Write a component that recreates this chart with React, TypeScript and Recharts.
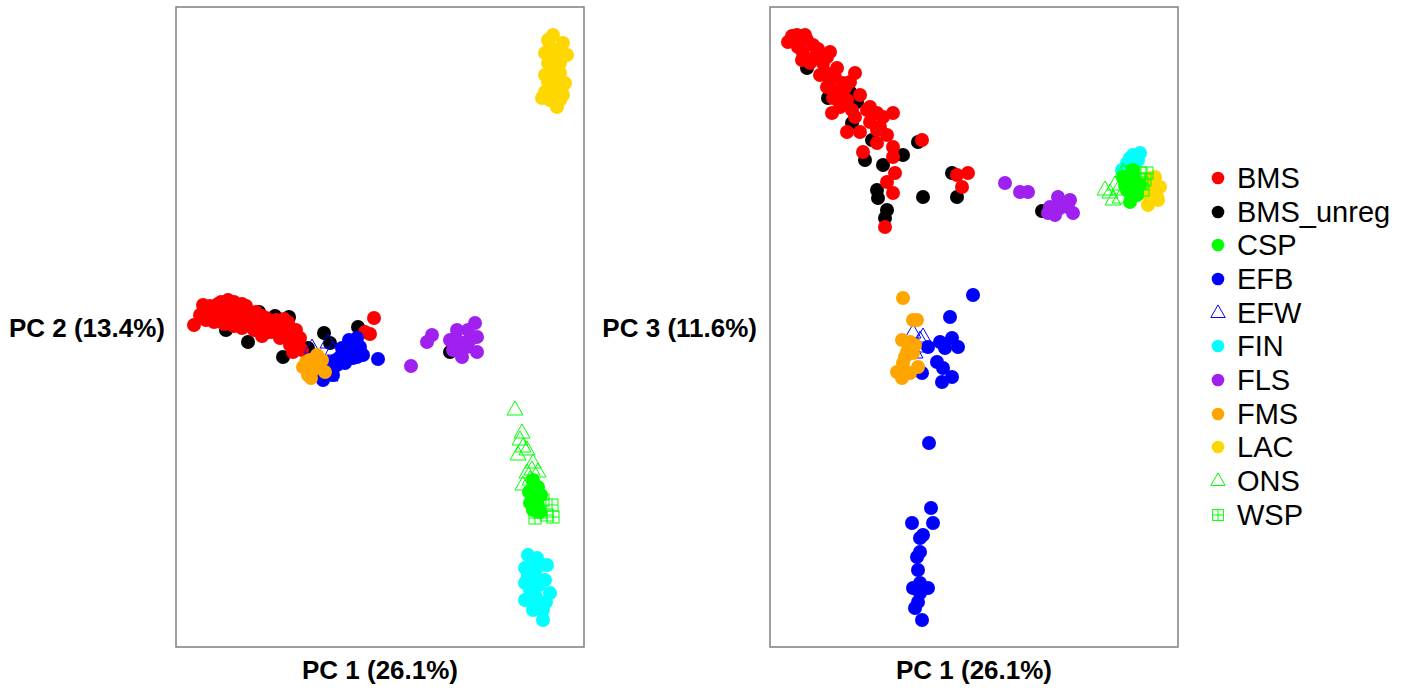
import React from "react";
import { ScatterChart, Scatter, XAxis, YAxis, ReferenceArea } from "recharts";

type Pt = { x: number; y: number };
type Marker = "dot" | "triangle" | "squarePlus";

// PC scores, in box-relative units (x: 0..408, y: 0..640, y up)
const pc12_BMS: Pt[] = [
  { x: 18, y: 322 }, { x: 27, y: 342 }, { x: 32, y: 337 }, { x: 36, y: 331 }, { x: 30, y: 327 },
  { x: 42, y: 343 }, { x: 46, y: 335 }, { x: 50, y: 341 }, { x: 54, y: 329 }, { x: 60, y: 339 },
  { x: 64, y: 333 }, { x: 68, y: 325 }, { x: 70, y: 341 }, { x: 74, y: 329 }, { x: 76, y: 321 },
  { x: 80, y: 335 }, { x: 84, y: 325 }, { x: 88, y: 319 }, { x: 90, y: 329 }, { x: 94, y: 322 },
  { x: 96, y: 315 }, { x: 100, y: 327 }, { x: 102, y: 317 }, { x: 106, y: 321 }, { x: 110, y: 312 },
  { x: 112, y: 325 }, { x: 116, y: 307 }, { x: 120, y: 317 }, { x: 122, y: 301 }, { x: 124, y: 309 },
  { x: 126, y: 297 }, { x: 114, y: 302 }, { x: 38, y: 325 }, { x: 48, y: 323 }, { x: 58, y: 321 },
  { x: 66, y: 319 }, { x: 78, y: 317 }, { x: 82, y: 331 }, { x: 40, y: 337 }, { x: 24, y: 332 },
  { x: 72, y: 335 }, { x: 86, y: 311 }, { x: 104, y: 309 }, { x: 198, y: 329 }, { x: 189, y: 315 },
  { x: 194, y: 313 }, { x: 56, y: 335 }, { x: 62, y: 327 }, { x: 34, y: 341 }, { x: 52, y: 347 },
  { x: 117, y: 295 }, { x: 45, y: 345 }, { x: 58, y: 345 }, { x: 66, y: 343 }, { x: 92, y: 315 },
  { x: 98, y: 321 }, { x: 108, y: 328 }, { x: 118, y: 312 }, { x: 44, y: 328 }, { x: 86, y: 331 },
];
const pc12_BMS_unreg: Pt[] = [
  { x: 83, y: 335 }, { x: 72, y: 305 }, { x: 50, y: 317 }, { x: 94, y: 325 }, { x: 113, y: 330 },
  { x: 107, y: 290 }, { x: 148, y: 314 }, { x: 154, y: 304 }, { x: 182, y: 320 }, { x: 132, y: 299 },
  { x: 274, y: 295 }, { x: 64, y: 322 }, { x: 99, y: 331 }, { x: 120, y: 305 },
];
const pc12_EFB: Pt[] = [
  { x: 181, y: 309 }, { x: 174, y: 304 }, { x: 184, y: 300 }, { x: 187, y: 292 }, { x: 177, y: 289 },
  { x: 169, y: 284 }, { x: 161, y: 282 }, { x: 154, y: 277 }, { x: 147, y: 267 }, { x: 202, y: 288 },
  { x: 171, y: 294 }, { x: 181, y: 290 }, { x: 164, y: 290 }, { x: 173, y: 307 }, { x: 160, y: 287 },
  { x: 152, y: 285 }, { x: 157, y: 272 }, { x: 166, y: 299 }, { x: 179, y: 297 }, { x: 142, y: 275 },
];
const pc12_EFW: Pt[] = [
  { x: 136, y: 299 }, { x: 152, y: 304 }, { x: 157, y: 297 }, { x: 154, y: 271 }, { x: 144, y: 275 },
  { x: 142, y: 287 },
];
const pc12_FMS: Pt[] = [
  { x: 141, y: 292 }, { x: 134, y: 287 }, { x: 127, y: 280 }, { x: 132, y: 272 }, { x: 144, y: 280 },
  { x: 149, y: 275 }, { x: 137, y: 277 }, { x: 130, y: 285 }, { x: 139, y: 283 }, { x: 146, y: 287 },
  { x: 135, y: 269 },
];
const pc12_FLS: Pt[] = [
  { x: 235, y: 281 }, { x: 251, y: 305 }, { x: 256, y: 312 }, { x: 281, y: 317 }, { x: 299, y: 324 },
  { x: 301, y: 310 }, { x: 284, y: 305 }, { x: 277, y: 297 }, { x: 286, y: 290 }, { x: 301, y: 295 },
  { x: 291, y: 300 }, { x: 274, y: 307 }, { x: 292, y: 317 }, { x: 294, y: 307 }, { x: 282, y: 297 },
];
const pc12_LAC: Pt[] = [
  { x: 377, y: 612 }, { x: 374, y: 600 }, { x: 369, y: 594 }, { x: 381, y: 597 }, { x: 387, y: 604 },
  { x: 391, y: 592 }, { x: 372, y: 584 }, { x: 384, y: 584 }, { x: 369, y: 572 }, { x: 384, y: 574 },
  { x: 389, y: 564 }, { x: 369, y: 555 }, { x: 374, y: 547 }, { x: 384, y: 547 }, { x: 381, y: 540 },
  { x: 387, y: 552 }, { x: 376, y: 562 }, { x: 379, y: 577 }, { x: 372, y: 607 }, { x: 366, y: 549 },
  { x: 375, y: 588 }, { x: 383, y: 590 }, { x: 378, y: 570 }, { x: 386, y: 560 }, { x: 372, y: 565 },
  { x: 379, y: 550 }, { x: 385, y: 600 }, { x: 376, y: 596 },
];
const pc12_ONS: Pt[] = [
  { x: 339, y: 237 }, { x: 346, y: 214 }, { x: 347, y: 200 }, { x: 342, y: 192 }, { x: 351, y: 197 },
  { x: 357, y: 184 }, { x: 351, y: 174 }, { x: 347, y: 162 }, { x: 356, y: 177 }, { x: 344, y: 207 },
  { x: 354, y: 167 }, { x: 362, y: 175 },
];
const pc12_CSP: Pt[] = [
  { x: 357, y: 167 }, { x: 362, y: 160 }, { x: 354, y: 144 }, { x: 362, y: 142 }, { x: 357, y: 137 },
  { x: 361, y: 150 }, { x: 353, y: 155 }, { x: 365, y: 152 }, { x: 359, y: 157 }, { x: 364, y: 135 },
];
const pc12_WSP: Pt[] = [
  { x: 367, y: 147 }, { x: 376, y: 142 }, { x: 377, y: 130 }, { x: 359, y: 129 }, { x: 371, y: 132 },
  { x: 357, y: 142 }, { x: 364, y: 135 },
];
const pc12_FIN: Pt[] = [
  { x: 352, y: 92 }, { x: 361, y: 89 }, { x: 371, y: 82 }, { x: 349, y: 79 }, { x: 359, y: 74 },
  { x: 369, y: 67 }, { x: 349, y: 64 }, { x: 357, y: 57 }, { x: 374, y: 54 }, { x: 349, y: 47 },
  { x: 359, y: 44 }, { x: 357, y: 37 }, { x: 367, y: 37 }, { x: 367, y: 27 }, { x: 366, y: 42 },
  { x: 354, y: 57 }, { x: 364, y: 82 }, { x: 352, y: 72 }, { x: 356, y: 85 }, { x: 363, y: 62 },
  { x: 360, y: 50 }, { x: 351, y: 67 }, { x: 370, y: 45 },
];

const pc13_BMS: Pt[] = [
  { x: 18, y: 605 }, { x: 27, y: 612 }, { x: 37, y: 607 }, { x: 43, y: 602 }, { x: 33, y: 594 },
  { x: 47, y: 594 }, { x: 60, y: 595 }, { x: 53, y: 584 }, { x: 40, y: 584 }, { x: 67, y: 579 },
  { x: 50, y: 572 }, { x: 85, y: 574 }, { x: 60, y: 565 }, { x: 73, y: 564 }, { x: 67, y: 555 },
  { x: 77, y: 547 }, { x: 62, y: 534 }, { x: 70, y: 540 }, { x: 90, y: 552 }, { x: 97, y: 537 },
  { x: 107, y: 534 }, { x: 123, y: 534 }, { x: 113, y: 530 }, { x: 77, y: 515 }, { x: 90, y: 515 },
  { x: 107, y: 517 }, { x: 117, y: 512 }, { x: 107, y: 504 }, { x: 152, y: 507 }, { x: 123, y: 500 },
  { x: 93, y: 495 }, { x: 123, y: 490 }, { x: 125, y: 474 }, { x: 117, y: 465 }, { x: 123, y: 454 },
  { x: 115, y: 420 }, { x: 187, y: 472 }, { x: 198, y: 474 }, { x: 192, y: 460 }, { x: 32, y: 587 },
  { x: 45, y: 589 }, { x: 55, y: 575 }, { x: 63, y: 549 }, { x: 82, y: 537 }, { x: 100, y: 525 },
  { x: 75, y: 559 }, { x: 28, y: 600 }, { x: 22, y: 611 }, { x: 35, y: 612 }, { x: 48, y: 598 },
  { x: 57, y: 590 }, { x: 65, y: 570 }, { x: 80, y: 565 }, { x: 72, y: 548 }, { x: 85, y: 530 },
  { x: 100, y: 540 }, { x: 110, y: 520 }, { x: 57, y: 560 },
];
const pc13_BMS_unreg: Pt[] = [
  { x: 80, y: 555 }, { x: 87, y: 545 }, { x: 82, y: 524 }, { x: 102, y: 507 }, { x: 95, y: 487 },
  { x: 113, y: 482 }, { x: 133, y: 492 }, { x: 148, y: 505 }, { x: 107, y: 457 }, { x: 108, y: 449 },
  { x: 117, y: 437 }, { x: 115, y: 429 }, { x: 153, y: 450 }, { x: 182, y: 474 }, { x: 187, y: 450 },
  { x: 58, y: 549 }, { x: 37, y: 579 }, { x: 272, y: 436 },
];
const pc13_EFB: Pt[] = [
  { x: 203, y: 352 }, { x: 180, y: 330 }, { x: 182, y: 309 }, { x: 170, y: 305 }, { x: 175, y: 299 },
  { x: 188, y: 300 }, { x: 158, y: 300 }, { x: 167, y: 285 }, { x: 173, y: 279 }, { x: 152, y: 274 },
  { x: 172, y: 265 }, { x: 182, y: 270 }, { x: 159, y: 204 }, { x: 161, y: 139 }, { x: 142, y: 124 },
  { x: 163, y: 124 }, { x: 153, y: 112 }, { x: 150, y: 109 }, { x: 150, y: 95 }, { x: 147, y: 90 },
  { x: 148, y: 77 }, { x: 150, y: 64 }, { x: 143, y: 59 }, { x: 158, y: 59 }, { x: 150, y: 54 },
  { x: 148, y: 45 }, { x: 145, y: 39 }, { x: 152, y: 27 },
];
const pc13_EFW: Pt[] = [
  { x: 143, y: 314 }, { x: 153, y: 310 }, { x: 148, y: 300 }, { x: 145, y: 294 }, { x: 150, y: 307 },
];
const pc13_FMS: Pt[] = [
  { x: 133, y: 349 }, { x: 147, y: 327 }, { x: 143, y: 327 }, { x: 132, y: 307 }, { x: 140, y: 305 },
  { x: 137, y: 295 }, { x: 143, y: 294 }, { x: 133, y: 284 }, { x: 127, y: 275 }, { x: 132, y: 269 },
  { x: 140, y: 274 }, { x: 148, y: 280 }, { x: 145, y: 302 }, { x: 135, y: 290 },
];
const pc13_FLS: Pt[] = [
  { x: 235, y: 464 }, { x: 250, y: 455 }, { x: 258, y: 455 }, { x: 288, y: 450 }, { x: 300, y: 447 },
  { x: 280, y: 440 }, { x: 290, y: 439 }, { x: 303, y: 434 }, { x: 285, y: 432 }, { x: 293, y: 442 },
  { x: 278, y: 434 }, { x: 298, y: 440 },
];
const pc13_FIN: Pt[] = [
  { x: 363, y: 492 }, { x: 368, y: 487 }, { x: 357, y: 484 }, { x: 352, y: 477 }, { x: 370, y: 494 },
  { x: 360, y: 489 },
];
const pc13_LAC: Pt[] = [
  { x: 385, y: 470 }, { x: 390, y: 460 }, { x: 387, y: 450 }, { x: 378, y: 442 }, { x: 375, y: 454 },
  { x: 383, y: 462 }, { x: 380, y: 469 }, { x: 388, y: 447 },
];
const pc13_CSP: Pt[] = [
  { x: 353, y: 470 }, { x: 360, y: 464 }, { x: 365, y: 467 }, { x: 357, y: 457 }, { x: 367, y: 452 },
  { x: 360, y: 445 }, { x: 355, y: 462 }, { x: 370, y: 462 }, { x: 363, y: 477 },
];
const pc13_ONS: Pt[] = [
  { x: 335, y: 457 }, { x: 340, y: 454 }, { x: 343, y: 447 }, { x: 348, y: 457 }, { x: 353, y: 475 },
  { x: 345, y: 462 }, { x: 350, y: 449 },
];
const pc13_WSP: Pt[] = [
  { x: 363, y: 475 }, { x: 370, y: 474 }, { x: 377, y: 474 }, { x: 372, y: 464 }, { x: 373, y: 457 },
  { x: 367, y: 460 }, { x: 358, y: 475 }, { x: 375, y: 467 },
];

const groups: { name: string; color: string; marker: Marker; left: Pt[]; right: Pt[] }[] = [
  { name: "BMS", color: "#FF0000", marker: "dot", left: pc12_BMS, right: pc13_BMS },
  { name: "BMS_unreg", color: "#000000", marker: "dot", left: pc12_BMS_unreg, right: pc13_BMS_unreg },
  { name: "CSP", color: "#00FF00", marker: "dot", left: pc12_CSP, right: pc13_CSP },
  { name: "EFB", color: "#0000FF", marker: "dot", left: pc12_EFB, right: pc13_EFB },
  { name: "EFW", color: "#0000FF", marker: "triangle", left: pc12_EFW, right: pc13_EFW },
  { name: "FIN", color: "#00FFFF", marker: "dot", left: pc12_FIN, right: pc13_FIN },
  { name: "FLS", color: "#A020F0", marker: "dot", left: pc12_FLS, right: pc13_FLS },
  { name: "FMS", color: "#FFA500", marker: "dot", left: pc12_FMS, right: pc13_FMS },
  { name: "LAC", color: "#FFD700", marker: "dot", left: pc12_LAC, right: pc13_LAC },
  { name: "ONS", color: "#00FF00", marker: "triangle", left: pc12_ONS, right: pc13_ONS },
  { name: "WSP", color: "#00FF00", marker: "squarePlus", left: pc12_WSP, right: pc13_WSP },
];

// order in which the groups are plotted (later on top)
const drawOrder = ["BMS_unreg", "BMS", "EFW", "EFB", "FMS", "FLS", "FIN", "LAC", "ONS", "CSP", "WSP"];

const FONT = '"Liberation Sans", Arial, sans-serif';

function drawMarker(marker: Marker, color: string, cx: number, cy: number, s = 1) {
  if (marker === "dot") return <circle cx={cx} cy={cy} r={7 * s} fill={color} />;
  if (marker === "triangle") {
    const w = 8 * s;
    const pts = `${cx},${cy - 9 * s} ${cx - w},${cy + 5 * s} ${cx + w},${cy + 5 * s}`;
    return <polygon points={pts} fill="none" stroke={color} strokeWidth={1} />;
  }
  const h = 6 * s;
  return (
    <g stroke={color} strokeWidth={1} fill="none">
      <rect x={cx - h} y={cy - h} width={h * 2} height={h * 2} />
      <line x1={cx - h} y1={cy} x2={cx + h} y2={cy} />
      <line x1={cx} y1={cy - h} x2={cx} y2={cy + h} />
    </g>
  );
}

function Panel({ side, left }: { side: "left" | "right"; left: number }) {
  const ordered = drawOrder.map((n) => groups.find((g) => g.name === n)!);
  return (
    <div style={{ position: "absolute", left, top: 1 }}>
      <ScatterChart width={420} height={652} margin={{ top: 6, right: 6, bottom: 6, left: 6 }}>
        <XAxis type="number" dataKey="x" domain={[0, 408]} hide allowDataOverflow />
        <YAxis type="number" dataKey="y" domain={[0, 640]} hide allowDataOverflow />
        <ReferenceArea
          x1={0}
          x2={408}
          y1={0}
          y2={640}
          fill="none"
          fillOpacity={0}
          stroke="#7F7F7F"
          strokeWidth={1.5}
          ifOverflow="visible"
        />
        {ordered.map((g) => (
          <Scatter
            key={g.name}
            name={g.name}
            data={side === "left" ? g.left : g.right}
            isAnimationActive={false}
            shape={(p: any) => drawMarker(g.marker, g.color, p.cx, p.cy)}
          />
        ))}
      </ScatterChart>
    </div>
  );
}

const labelStyle: React.CSSProperties = {
  position: "absolute",
  fontFamily: FONT,
  fontWeight: "bold",
  fontSize: 26,
  lineHeight: "30px",
  whiteSpace: "nowrap",
  color: "#000",
};

export default function App() {
  return (
    <div style={{ position: "absolute", left: 0, top: 0, width: 1410, height: 692, background: "#fff", overflow: "hidden" }}>
      <Panel side="left" left={170} />
      <Panel side="right" left={764} />

      <div style={{ ...labelStyle, left: 0, width: 165, top: 313, textAlign: "right" }}>PC 2 (13.4%)</div>
      <div style={{ ...labelStyle, left: 594, width: 163, top: 313, textAlign: "right" }}>PC 3 (11.6%)</div>
      <div style={{ ...labelStyle, left: 180, width: 400, top: 655, textAlign: "center" }}>PC 1 (26.1%)</div>
      <div style={{ ...labelStyle, left: 774, width: 400, top: 655, textAlign: "center" }}>PC 1 (26.1%)</div>

      <div style={{ position: "absolute", left: 1207, top: 161, fontFamily: FONT, fontSize: 29 }}>
        {groups.map((g) => (
          <div key={g.name} style={{ display: "flex", alignItems: "center", height: 33.7 }}>
            <svg width={22} height={22} style={{ display: "block" }}>
              {drawMarker(g.marker, g.color, 11, 11, 0.9)}
            </svg>
            <span style={{ marginLeft: 8, lineHeight: "30px" }}>{g.name}</span>
          </div>
        ))}
      </div>
    </div>
  );
}
